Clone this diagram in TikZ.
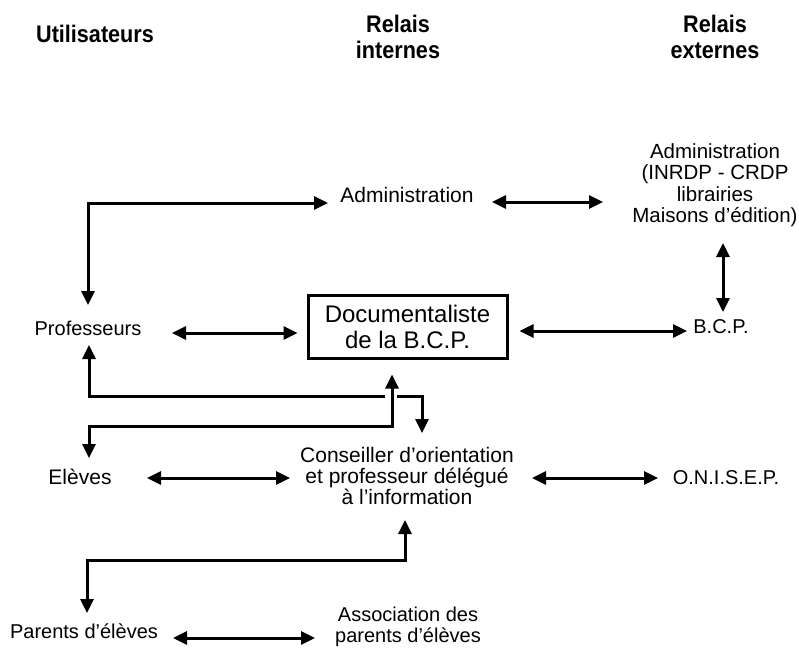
\documentclass[tikz,border=0pt]{standalone}
\usepackage{fontspec}
\setmainfont{Liberation Sans}
\newfontfamily\headfont[FakeStretch=0.9]{Liberation Sans}
\usetikzlibrary{arrows.meta,calc}
\begin{document}
\begin{tikzpicture}[x=1pt,y=-1pt,
  lbl/.style={inner sep=0pt, align=center, font=\fontsize{20pt}{21pt}\selectfont},
  biglbl/.style={lbl, font=\fontsize{21pt}{21pt}\selectfont},
  head/.style={inner sep=0pt, align=center, font=\headfont\bfseries\fontsize{24pt}{26pt}\selectfont},
  docbox/.style={draw, line width=3pt, minimum width=199pt, minimum height=63pt,
    inner sep=0pt, align=center, font=\fontsize{24pt}{26pt}\selectfont},
  link/.style={line width=3pt,
    {Triangle[length=14pt,width=13pt]}-{Triangle[length=14pt,width=13pt]}},
  halflink/.style={line width=3pt, -{Triangle[length=14pt,width=13pt]}},
]
\useasboundingbox (0,0) rectangle (799,650);

% column headings
\node[head] (h1) at (95,34) {Utilisateurs};
\node[head] (h2) at (398,37) {Relais\\internes};
\node[head] (h3) at (715,37) {Relais\\externes};

% nodes
\node[biglbl] (admI) at (407,195) {Administration};
\node[lbl, font=\fontsize{20.5pt}{21.5pt}\selectfont] (admE) at (715,185)
  {Administration\\(INRDP - CRDP\\librairies\\Maisons d’édition)};
\node[lbl] (prof) at (88,328) {Professeurs};
\node[docbox] (doc) at (407.5,326.5) {Documentaliste\\de la B.C.P.};
\node[lbl] (bcp) at (721,327) {B.C.P.};
\node[biglbl] (eleves) at (80,477) {Elèves};
\node[biglbl] (cons) at (407,476) {Conseiller d’orientation\\et professeur délégué\\à l’information};
\node[lbl] (onisep) at (726,478) {O.N.I.S.E.P.};
\node[lbl] (parents) at (84,631) {Parents d’élèves};
\node[lbl] (assoc) at (408,627) {Association des\\parents d’élèves};

% connectors
\draw[link] ($(prof)+(0,-23)$) |- ($(admI)+(-79,8)$);
\draw[link] ($(admI)+(85,7)$) -- ($(admE)+(-112,17)$);
\draw[link] ($(admE)+(8,58)$) -- ($(bcp)+(2,-15)$);
\draw[link] ($(prof)+(84,5)$) -- ($(doc.west)+(-9,6.5)$);
\draw[link] ($(doc.east)+(11,4.5)$) -- ($(bcp)+(-34,4)$);

% Professeurs -- Conseiller, broken where it passes under the other line
\draw[halflink] ($(doc.south)+(-22.5,37)$) -| ($(prof)+(1,17)$);
\draw[halflink] ($(doc.south)+(-10.5,37)$) -| ($(cons)+(15,-43)$);

% Elèves -- Documentaliste
\draw[link] ($(doc.south)+(-15.5,15)$) -- ++(0,52) -| ($(eleves)+(9,-19)$);

\draw[link] ($(eleves)+(67,1)$) -- ($(cons)+(-117,2)$);
\draw[link] ($(cons)+(125,2)$) -- ($(onisep)+(-68,0)$);

% Parents -- Conseiller
\draw[link] ($(cons)+(-2,44)$) -- ++(0,40) -| ($(parents)+(3,-18)$);
\draw[link] ($(parents)+(89,7)$) -- ($(assoc)+(-93,11)$);
\end{tikzpicture}
\end{document}
